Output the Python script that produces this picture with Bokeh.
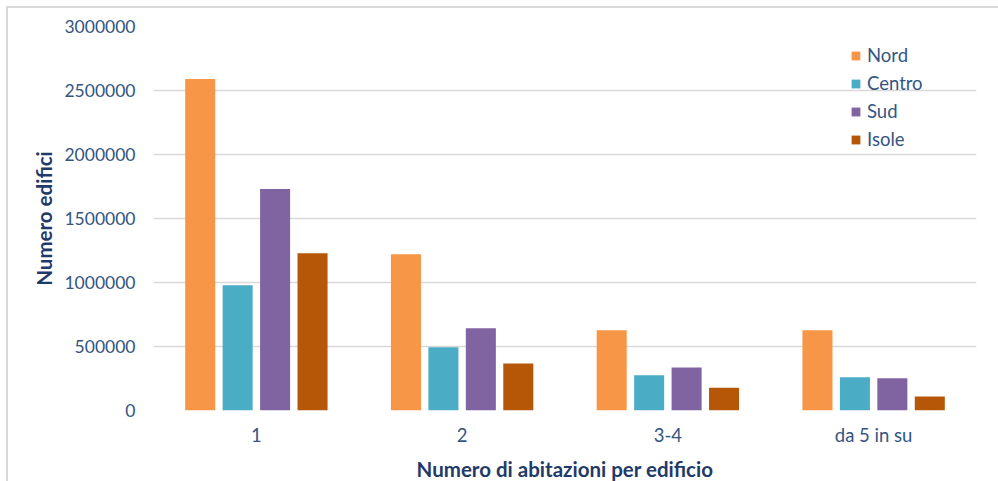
from bokeh.plotting import figure
from bokeh.models import ColumnDataSource, FactorRange, Legend, LegendItem, Range1d, FixedTicker, NumeralTickFormatter
from bokeh.transform import dodge
from bokeh.embed import file_html
from bokeh.resources import INLINE

# Buildings by number of dwellings per building, by macro-region
categories = ["1", "2", "3-4", "da 5 in su"]
nord = [2590000, 1220000, 627000, 627000]
centro = [979000, 495000, 276000, 260000]
sud = [1730000, 643000, 336000, 252000]
isole = [1229000, 367000, 177000, 109000]
series_names = ["Nord", "Centro", "Sud", "Isole"]
y_ticks = [0, 500000, 1000000, 1500000, 2000000, 2500000, 3000000]

colors = ["#F79646", "#4BACC6", "#8064A2", "#B65708"]
tick_color = "#34557F"
title_color = "#1F3A68"
font = "Lato"

source = ColumnDataSource(data=dict(cat=categories, Nord=nord, Centro=centro, Sud=sud, Isole=isole))

p = figure(
    x_range=FactorRange(*categories, range_padding=0),
    y_range=Range1d(0, 3000000),
    width=990, height=473,
    output_backend="svg", toolbar_location=None,
    min_border_left=145, min_border_right=24, min_border_top=18, min_border_bottom=71,
)
p.styles = {
    "margin-left": "6px", "margin-top": "6px",
    "border-left": "2px solid #D9D9D9", "border-top": "2px solid #D9D9D9",
    "box-sizing": "content-box",
}

offsets = [-0.273, -0.091, 0.091, 0.273]
renderers = []
for name, off, col in zip(series_names, offsets, colors):
    r = p.vbar(x=dodge("cat", off, range=p.x_range), top=name, width=0.146,
               source=source, fill_color=col, line_color=None)
    renderers.append(r)

legend = Legend(items=[LegendItem(label=n, renderers=[r]) for n, r in zip(series_names, renderers)],
                location=(697, 260))
legend.glyph_width = 11
legend.glyph_height = 11
legend.label_height = 20
legend.spacing = 6
legend.padding = 0
legend.margin = 0
legend.label_standoff = 6
legend.border_line_color = None
legend.background_fill_alpha = 0
legend.label_text_font = font
legend.label_text_font_size = "18.5px"
legend.label_text_color = tick_color
p.add_layout(legend, "center")

p.outline_line_color = None
p.xgrid.grid_line_color = None
p.ygrid.grid_line_color = "#D9D9D9"
p.ygrid.grid_line_width = 1.5

p.yaxis.ticker = FixedTicker(ticks=y_ticks)
p.yaxis.formatter = NumeralTickFormatter(format="0")
p.yaxis.axis_line_color = None
p.yaxis.major_tick_line_color = None
p.yaxis.minor_tick_line_color = None
p.yaxis.major_tick_out = 0
p.yaxis.major_tick_in = 0
p.yaxis.minor_tick_out = 0
p.yaxis.major_label_standoff = 18
p.yaxis.major_label_text_font = font
p.yaxis.major_label_text_font_size = "17.5px"
p.yaxis.major_label_text_color = tick_color
p.yaxis.axis_label = "Numero edifici"
p.yaxis.axis_label_text_font = font
p.yaxis.axis_label_text_font_style = "bold"
p.yaxis.axis_label_text_font_size = "20.5px"
p.yaxis.axis_label_text_color = title_color
p.yaxis.axis_label_standoff = 5

p.xaxis.axis_line_color = None
p.xaxis.major_tick_line_color = None
p.xaxis.minor_tick_line_color = None
p.xaxis.major_tick_out = 0
p.xaxis.major_tick_in = 0
p.xaxis.minor_tick_out = 0
p.xaxis.major_label_standoff = 13
p.xaxis.major_label_text_font = font
p.xaxis.major_label_text_font_size = "18.5px"
p.xaxis.major_label_text_color = tick_color
p.xaxis.axis_label = "Numero di abitazioni per edificio"
p.xaxis.axis_label_text_font = font
p.xaxis.axis_label_text_font_style = "bold"
p.xaxis.axis_label_text_font_size = "20.5px"
p.xaxis.axis_label_text_color = title_color
p.xaxis.axis_label_standoff = 8

open("out.html", "w").write(file_html(p, INLINE))
